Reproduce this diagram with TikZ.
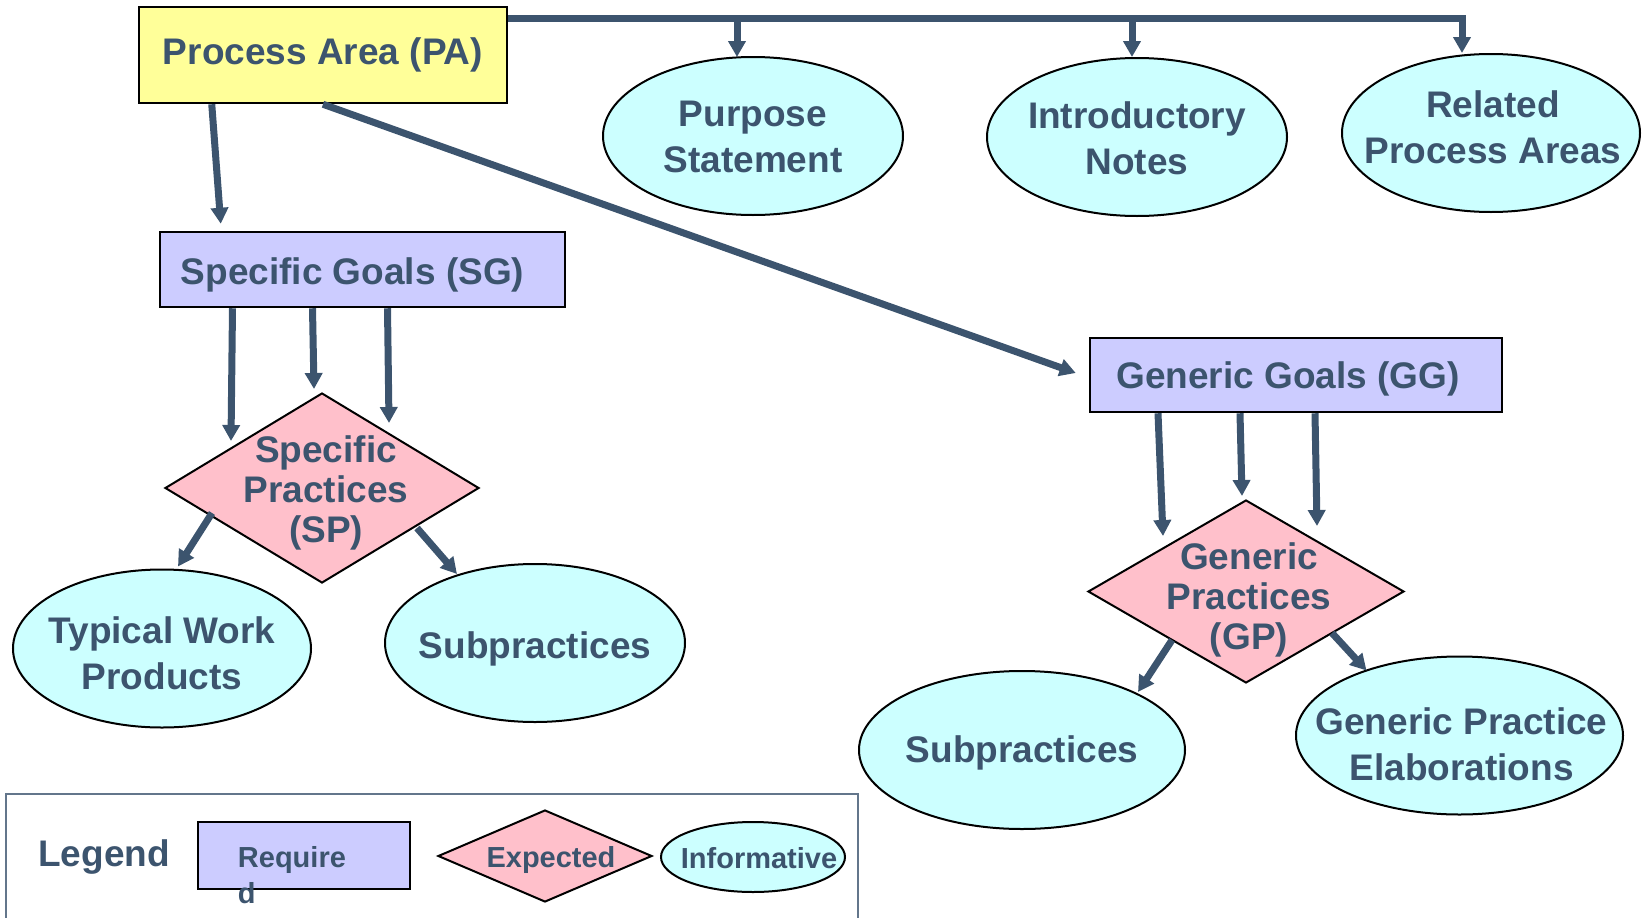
\documentclass[tikz,border=0pt]{standalone}
\usepackage{fontspec}
\setmainfont{Liberation Sans}
\usetikzlibrary{shapes,arrows.meta,positioning,calc}
\definecolor{ink}{RGB}{60,84,110}
\definecolor{paYellow}{RGB}{255,255,153}
\definecolor{reqBlue}{RGB}{204,204,255}
\definecolor{expPink}{RGB}{255,192,203}
\definecolor{infoCyan}{RGB}{204,255,255}

\begin{document}
\begin{tikzpicture}[x=1pt,y=-1pt,
	txt/.style={text=ink,font=\bfseries\fontsize{37}{46}\selectfont,align=center,inner sep=0},
	dtxt/.style={txt,font=\bfseries\fontsize{37}{40}\selectfont},
	ltxt/.style={txt,font=\bfseries\fontsize{29}{36}\selectfont},
	pabox/.style={draw=black,line width=2.5pt,fill=paYellow,inner sep=0},
	reqbox/.style={draw=black,line width=2.5pt,fill=reqBlue,inner sep=0},
	expbox/.style={diamond,draw=black,line width=2pt,fill=expPink,inner sep=0},
	infobox/.style={ellipse,draw=black,line width=2pt,fill=infoCyan,inner sep=0,minimum width=300,minimum height=158},
	arr/.style={draw=ink,line width=7pt,-{Triangle[length=16pt,width=17pt]}}]
	\useasboundingbox (0,0) rectangle (1644,918);

	\node[pabox,txt,minimum width=368,minimum height=96] (pa) at (323,55) {Process Area (PA)};
	\node[infobox] (purp) at (753,136) {};
	\node[txt] (purp-t) at ($(purp)+(0,1)$) {Purpose\\Statement};
	\node[infobox] (intro) at (1137,137) {};
	\node[txt] (intro-t) at ($(intro)+(0,1)$) {Introductory\\Notes};
	\node[infobox,minimum width=298] (rel) at (1491,133) {};
	\node[txt] (rel-t) at ($(rel)+(2,-6)$) {Related\\Process Areas};

	\node[reqbox,minimum width=405,minimum height=75] (sg) at (362.5,269.5) {};
	\node[txt] (sg-t) at ($(sg)+(-10,5)$) {Specific Goals (SG)};
	\node[expbox,minimum width=314,minimum height=190] (sp) at (322,488) {};
	\node[dtxt] (sp-t) at ($(sp)+(4,5)$) {Specific\\Practices\\(SP)};
	\node[infobox,minimum width=298] (typ) at (162,648.5) {};
	\node[txt] (typ-t) at ($(typ)+(0,5)$) {Typical Work\\Products};
	\node[infobox] (subl) at (535,643) {};
	\node[txt] (subl-t) at ($(subl)+(0,6)$) {Subpractices};

	\node[reqbox,minimum width=412,minimum height=74] (gg) at (1296,375) {};
	\node[txt] (gg-t) at ($(gg)+(-8,4)$) {Generic Goals (GG)};
	\node[expbox,minimum width=316,minimum height=183] (gp) at (1246,591.5) {};
	\node[dtxt] (gp-t) at ($(gp)+(3,8)$) {Generic\\Practices\\(GP)};
	\node[infobox,minimum width=326] (subr) at (1022,750) {};
	\node[txt] (subr-t) at ($(subr)+(0,3)$) {Subpractices};
	\node[infobox,minimum width=327] (elab) at (1459.5,735.5) {};
	\node[txt] (elab-t) at ($(elab)+(2,9)$) {Generic Practice\\Elaborations};

	\coordinate (bus) at ($(pa.north east)+(0,13)$);
	\coordinate (d1) at ($(purp.north)+(-16,1)$);
	\coordinate (d2) at ($(intro.north)+(-5,0)$);
	\coordinate (d3) at ($(rel.north)+(-29,0)$);
	\draw[arr] (bus) -| (d3);
	\draw[arr] (bus -| d1) -- (d1);
	\draw[arr] (bus -| d2) -- (d2);

	\draw[arr] ($(pa.south west)+(74,0)$) -- ($(sg.north west)+(62,-7)$);
	\draw[arr] (pa.south) -- ($(gg.west)+(-13,-2)$);
	\foreach \sx/\ex/\ey in {-130/-91/49,-50/-8/-3,25/67/31}
		\draw[arr] ($(sg.south)+(\sx,0)$) -- ($(sp.north)+(\ex,\ey)$);
	\draw[arr] ($(sp)+(-110,25)$) -- ($(typ.north)+(16,-2)$);
	\draw[arr] ($(sp)+(95,40)$) -- ($(subl.north)+(-78,11)$);
	\foreach \sx/\ex/\ey in {-138/-83/37,-56/-4/-3,19/71/27}
		\draw[arr] ($(gg.south)+(\sx,0)$) -- ($(gp.north)+(\ex,\ey)$);
	\draw[arr] ($(gp)+(-74,48.5)$) -- ($(subr.north)+(116,22)$);
	\draw[arr] ($(gp)+(86,41.5)$) -- ($(elab.north)+(-93,15)$);

	\draw[ink!80,line width=1.2pt] (6,918) |- (858,794) -- (858,918);
	\node[txt] (leg) at (104,857) {Legend};
	\node[reqbox,minimum width=212,minimum height=67] (lreq) at (304,855.5) {};
	\node[ltxt,align=left,anchor=north west] (lreq-t) at ($(lreq.west)+(41,-9)$) {Require\\d};
	\node[expbox,minimum width=214,minimum height=92] (lexp) at (545,856) {};
	\node[ltxt] (lexp-t) at ($(lexp)+(6,4)$) {Expected};
	\node[infobox,minimum width=184,minimum height=70] (linf) at (753,857) {};
	\node[ltxt] (linf-t) at ($(linf)+(6,1)$) {Informative};
\end{tikzpicture}
\end{document}
